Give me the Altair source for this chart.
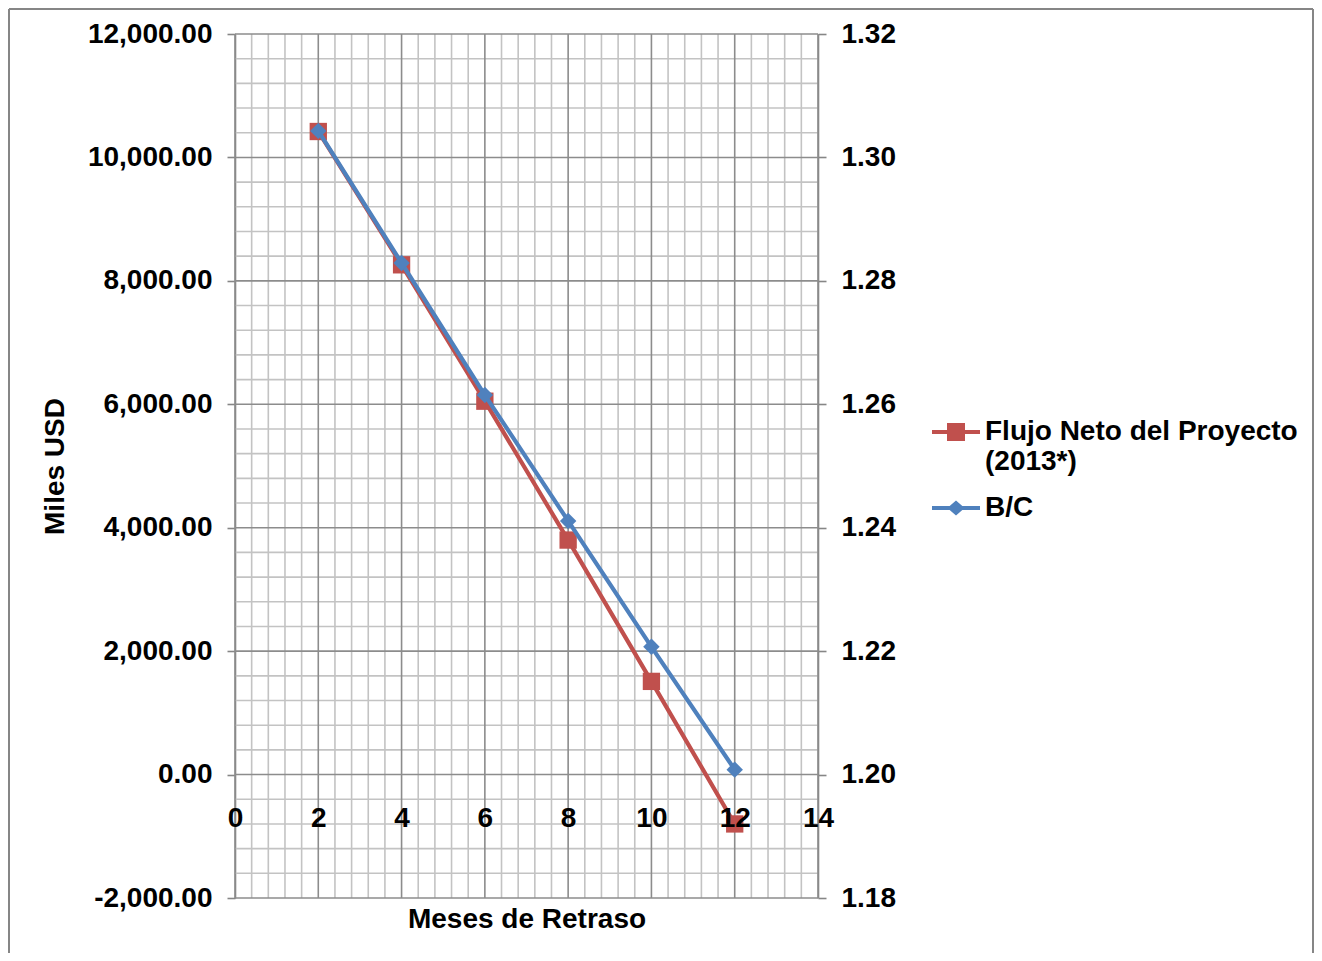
import altair as alt
import pandas as pd

# ---- data ----
meses = [2, 4, 6, 8, 10, 12]
flujo = [10420, 8260, 6050, 3800, 1510, -800]
bc = [1.3043, 1.2829, 1.2615, 1.2411, 1.2207, 1.2008]
series = ["Flujo Neto del Proyecto (2013*)", "B/C"]
colors = ["#C0504D", "#4F81BD"]

x_major = [0, 2, 4, 6, 8, 10, 12, 14]
y_left_major = [-2000, 0, 2000, 4000, 6000, 8000, 10000, 12000]
y_right_major = [1.18, 1.20, 1.22, 1.24, 1.26, 1.28, 1.30, 1.32]
x_minor = [round(i * 0.4, 1) for i in range(36) if i % 5 != 0]
y_minor = [-2000 + i * 400 for i in range(36) if i % 5 != 0]

X_DOM = [0, 14]
YL_DOM = [-2000, 12000]
YR_DOM = [1.18, 1.32]

W, H = 583, 864
PAD_L, PAD_T, PAD_R, PAD_B = 227, 26, 496, 55
FONT = "Liberation Sans"
FS = 28
AX_COL = "#868686"
MINOR_COL = "#C3C3C3"
MAJOR_COL = "#8C8C8C"

df_red = pd.DataFrame({"mes": meses, "valor": flujo, "serie": series[0]})
df_blue = pd.DataFrame({"mes": meses, "valor": bc, "serie": series[1]})
df_xmin = pd.DataFrame({"g": x_minor})
df_ymin = pd.DataFrame({"g": y_minor})
df_xmaj = pd.DataFrame({"g": x_major})
df_ymaj = pd.DataFrame({"g": y_left_major})
df_one = pd.DataFrame({"a": [0]})

x_axis = alt.Axis(
    orient="bottom", values=x_major, format="d", grid=False, domain=False,
    ticks=False, offset=-123, labelPadding=29, labelFont=FONT,
    labelFontWeight="bold", labelFontSize=FS, labelColor="black",
    labelFlush=False, title="Meses de Retraso", titleFont=FONT,
    titleFontWeight="bold", titleFontSize=FS, titleColor="black",
    titlePadding=73, zindex=2,
)
xs = alt.Scale(domain=X_DOM, nice=False, zero=False)


def xenc(field="mes"):
    return alt.X(f"{field}:Q", scale=xs, axis=x_axis)


def yleft_noaxis(field):
    return alt.Y(f"{field}:Q", scale=alt.Scale(domain=YL_DOM, nice=False, zero=False), axis=None)


# gridlines
vmin = alt.Chart(df_xmin).mark_rule(color=MINOR_COL, strokeWidth=1.6).encode(
    x=xenc("g"), y=alt.value(0), y2=alt.value(H))
hmin = alt.Chart(df_ymin).mark_rule(color=MINOR_COL, strokeWidth=1.6).encode(
    y=yleft_noaxis("g"), x=alt.value(0), x2=alt.value(W))
vmaj = alt.Chart(df_xmaj).mark_rule(color=MAJOR_COL, strokeWidth=1.6).encode(
    x=xenc("g"), y=alt.value(0), y2=alt.value(H))
hmaj = alt.Chart(df_ymaj).mark_rule(color=MAJOR_COL, strokeWidth=1.6).encode(
    y=yleft_noaxis("g"), x=alt.value(0), x2=alt.value(W))

# outer chart-area border (top, left, right edges)
bx0, bx1, by0, by1 = -PAD_L + 1, W + PAD_R - 1, -PAD_T + 1, H + PAD_B + 150
b_top = alt.Chart(df_one).mark_rule(color=AX_COL, strokeWidth=2).encode(
    x=alt.value(bx0), x2=alt.value(bx1), y=alt.value(by0))
b_left = alt.Chart(df_one).mark_rule(color=AX_COL, strokeWidth=2).encode(
    x=alt.value(bx0), y=alt.value(by0), y2=alt.value(by1))
b_right = alt.Chart(df_one).mark_rule(color=AX_COL, strokeWidth=2).encode(
    x=alt.value(bx1), y=alt.value(by0), y2=alt.value(by1))

left_axis = alt.Axis(
    orient="left", values=y_left_major, format=",.2f",
    labelExpr="replace(format(datum.value, ',.2f'), '\u2212', '-')", grid=False,
    domainColor=AX_COL, domainWidth=1.6, tickColor=AX_COL, tickWidth=1.6,
    tickSize=8, labelPadding=15, labelFont=FONT, labelFontWeight="bold",
    labelFontSize=FS, labelColor="black", title="Miles USD", titleFont=FONT,
    titleFontWeight="bold", titleFontSize=FS, titleColor="black", titlePadding=18,
)
right_axis = alt.Axis(
    orient="right", values=y_right_major, format=".2f", grid=False,
    domainColor=AX_COL, domainWidth=1.6, tickColor=AX_COL, tickWidth=1.6,
    tickSize=8, labelPadding=15, labelFont=FONT, labelFontWeight="bold",
    labelFontSize=FS, labelColor="black", title=None,
)

red_line = alt.Chart(df_red).mark_line(color=colors[0], strokeWidth=4.2).encode(
    x=xenc(),
    y=alt.Y("valor:Q", scale=alt.Scale(domain=YL_DOM, nice=False, zero=False), axis=left_axis),
)
red_pts = alt.Chart(df_red).mark_point(shape="square", filled=True, color=colors[0], size=300, opacity=1).encode(
    x=xenc(), y=yleft_noaxis("valor"))

blue_line = alt.Chart(df_blue).mark_line(color=colors[1], strokeWidth=4.2).encode(
    x=xenc(),
    y=alt.Y("valor:Q", scale=alt.Scale(domain=YR_DOM, nice=False, zero=False), axis=right_axis),
)
blue_pts = alt.Chart(df_blue).mark_point(shape="diamond", filled=True, color=colors[1], size=270, opacity=1).encode(
    x=xenc(),
    y=alt.Y("valor:Q", scale=alt.Scale(domain=YR_DOM, nice=False, zero=False), axis=None),
)

# legend symbols: line segment + marker
sq_path = "M-1,-0.085H1V0.085H-1Z M-0.375,-0.375H0.375V0.375H-0.375Z"
dia_path = "M-1,-0.085H1V0.085H-1Z M0,-0.31L0.36,0L0,0.31L-0.36,0Z"

leg = alt.Legend(
    title=None, orient="none", legendX=697, legendY=374,
    symbolSize=2304, symbolStrokeWidth=0, symbolOpacity=1, labelLimit=0,
    labelFont=FONT, labelFontWeight="bold", labelFontSize=FS,
    labelColor="black", labelOffset=5, rowPadding=8,
    labelExpr="datum.value == 'B/C' ? datum.label : ['Flujo Neto del Proyecto', '(2013*)']",
)

# legend-only layer (no rows drawn; legend comes from the explicit scale domain)
legend_layer = alt.Chart(df_red).transform_filter("false").mark_point(
    filled=True, size=2304, strokeWidth=0).encode(
    x=xenc(), y=yleft_noaxis("valor"),
    color=alt.Color("serie:N", scale=alt.Scale(domain=series, range=colors), legend=leg),
    shape=alt.Shape("serie:N", scale=alt.Scale(domain=series, range=[sq_path, dia_path]), legend=leg),
)

chart = alt.layer(
    b_top, b_left, b_right, vmin, hmin, vmaj, hmaj,
    red_line, red_pts, blue_line, blue_pts, legend_layer
).resolve_scale(y="independent").properties(
    width=W, height=H,
    autosize=alt.AutoSizeParams(type="none"),
    padding={"left": PAD_L, "top": PAD_T, "right": PAD_R, "bottom": PAD_B},
    background="white",
).configure_view(strokeWidth=0)

chart.save("out.html", embed_options={"renderer": "svg", "actions": False})
